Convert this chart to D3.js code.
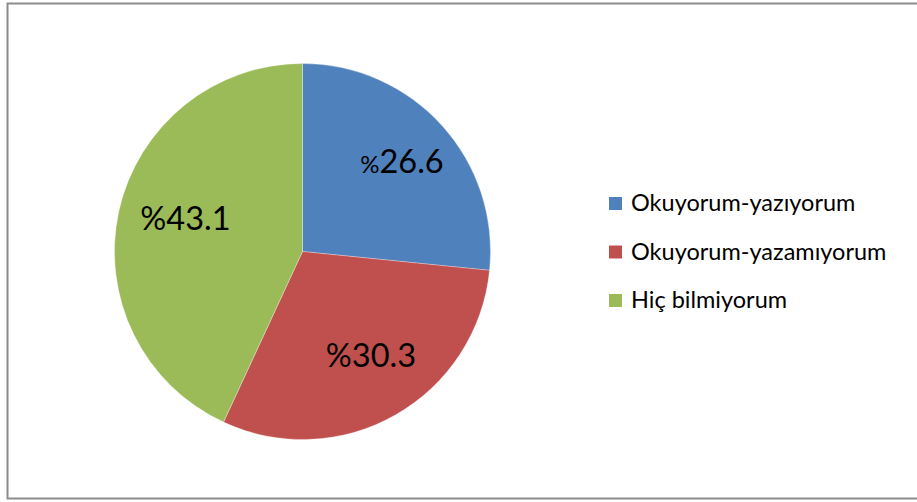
<!DOCTYPE html>
<html>
<head>
<meta charset="utf-8">
<script src="https://cdn.jsdelivr.net/npm/d3@7"></script>
<style>
  body { margin: 0; background: #fff; }
  svg { display: block; font-family: Lato, "Open Sans", sans-serif; }
</style>
</head>
<body>
<svg id="chart"></svg>
<script>
// pie data
var categories = ["Okuyorum-yazıyorum", "Okuyorum-yazamıyorum", "Hiç bilmiyorum"];
var values = [26.6, 30.3, 43.1];
var colors = ["#4F81BD", "#C0504D", "#9BBB59"];

var screen = {width: 917, height: 502};
var svg = d3.select("#chart")
    .attr("width", screen.width)
    .attr("height", screen.height);

// chart area border (right side runs off the picture)
svg.append("rect")
    .attr("x", 7.5).attr("y", 3.5)
    .attr("width", 920).attr("height", 495)
    .attr("fill", "none")
    .attr("stroke", "#8c8c8c")
    .attr("stroke-width", 2);

var center = {x: 302.5, y: 251.5};
var radius = 188;

var data = categories.map(function(c, i) {
    return {name: c, value: values[i], color: colors[i]};
});

var pie = d3.pie()
    .sort(null)
    .value(function(d) { return d.value; });

var arc = d3.arc().innerRadius(0).outerRadius(radius);
var labelArc = d3.arc().innerRadius(126).outerRadius(126);

var g = svg.append("g")
    .attr("transform", "translate(" + center.x + "," + center.y + ")");

var slices = pie(data);

g.selectAll("path")
    .data(slices)
    .enter()
    .append("path")
    .attr("d", arc)
    .attr("fill", function(d) { return d.data.color; })
    .attr("stroke", "#ffffff")
    .attr("stroke-opacity", 0.5)
    .attr("stroke-width", 0.6);

var labels = g.selectAll("text.lbl")
    .data(slices)
    .enter()
    .append("text")
    .classed("lbl", true)
    .attr("text-anchor", "middle")
    .attr("font-size", 32.5)
    .attr("fill", "#000")
    .attr("transform", function(d) {
        var c = labelArc.centroid(d);
        return "translate(" + (c[0] + 6) + "," + (c[1] + 6) + ")";
    });

labels.append("tspan")
    .attr("font-size", function(d, i) { return i === 0 ? 24 : 32.5; })
    .text("%");
labels.append("tspan")
    .text(function(d) { return d.data.value.toFixed(1); });

// legend
var legend = svg.append("g")
    .attr("transform", "translate(609,196)");

var rows = legend.selectAll("g")
    .data(data)
    .enter()
    .append("g")
    .attr("transform", function(d, i) { return "translate(0," + (i * 48.5) + ")"; });

rows.append("rect")
    .attr("width", 13).attr("height", 13)
    .attr("y", 1)
    .attr("fill", function(d) { return d.color; });

rows.append("text")
    .attr("x", 22)
    .attr("y", 15)
    .attr("font-size", 23.5)
    .attr("fill", "#000")
    .text(function(d) { return d.name; });
</script>
</body>
</html>
